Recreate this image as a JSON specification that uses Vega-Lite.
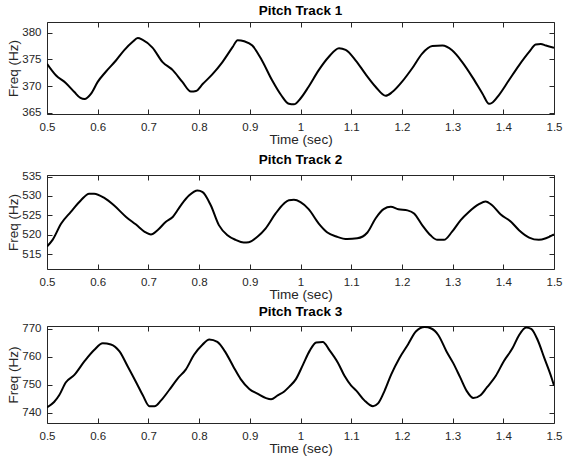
{
  "$schema": "https://vega.github.io/schema/vega-lite/v6.json",
  "background": "white",
  "padding": {"left": 6, "top": 3, "right": 0, "bottom": 0},
  "config": {
    "font": "Liberation Sans",
    "view": {"stroke": "#262626", "strokeWidth": 1},
    "axis": {
      "grid": false,
      "domain": false,
      "labelFlush": false,
      "tickColor": "#262626",
      "tickSize": -5,
      "labelColor": "#262626",
      "labelFontSize": 11.5,
      "titleColor": "#262626",
      "titleFontSize": 13.5,
      "titleFontWeight": "normal"
    },
    "axisX": {"labelPadding": 12, "titlePadding": 0},
    "axisY": {"labelPadding": 11, "titlePadding": 1},
    "title": {"fontSize": 13.5, "fontWeight": "bold", "color": "black", "offset": 4}
  },
  "data": {"values": [
    {"track": 1, "t": 0.5, "f": 374.2}, {"track": 1, "t": 0.518, "f": 372.0}, {"track": 1, "t": 0.537, "f": 370.6}, {"track": 1, "t": 0.554, "f": 368.9}, {"track": 1, "t": 0.566, "f": 367.8}, {"track": 1, "t": 0.574, "f": 367.6}, {"track": 1, "t": 0.587, "f": 368.6}, {"track": 1, "t": 0.6, "f": 370.8}, {"track": 1, "t": 0.616, "f": 372.7}, {"track": 1, "t": 0.636, "f": 374.8}, {"track": 1, "t": 0.652, "f": 376.7}, {"track": 1, "t": 0.669, "f": 378.3}, {"track": 1, "t": 0.679, "f": 379.0}, {"track": 1, "t": 0.688, "f": 378.7}, {"track": 1, "t": 0.708, "f": 377.2}, {"track": 1, "t": 0.728, "f": 374.5}, {"track": 1, "t": 0.748, "f": 373.0}, {"track": 1, "t": 0.767, "f": 370.8}, {"track": 1, "t": 0.784, "f": 369.0}, {"track": 1, "t": 0.794, "f": 369.1}, {"track": 1, "t": 0.807, "f": 370.4}, {"track": 1, "t": 0.826, "f": 372.2}, {"track": 1, "t": 0.846, "f": 374.5}, {"track": 1, "t": 0.866, "f": 377.3}, {"track": 1, "t": 0.876, "f": 378.6}, {"track": 1, "t": 0.889, "f": 378.4}, {"track": 1, "t": 0.905, "f": 377.6}, {"track": 1, "t": 0.924, "f": 374.8}, {"track": 1, "t": 0.944, "f": 371.1}, {"track": 1, "t": 0.962, "f": 368.3}, {"track": 1, "t": 0.977, "f": 366.7}, {"track": 1, "t": 0.987, "f": 366.6}, {"track": 1, "t": 1.0, "f": 367.7}, {"track": 1, "t": 1.016, "f": 369.9}, {"track": 1, "t": 1.036, "f": 373.0}, {"track": 1, "t": 1.056, "f": 375.5}, {"track": 1, "t": 1.076, "f": 377.1}, {"track": 1, "t": 1.089, "f": 376.8}, {"track": 1, "t": 1.109, "f": 374.8}, {"track": 1, "t": 1.128, "f": 372.3}, {"track": 1, "t": 1.148, "f": 369.9}, {"track": 1, "t": 1.168, "f": 368.2}, {"track": 1, "t": 1.181, "f": 368.9}, {"track": 1, "t": 1.2, "f": 370.8}, {"track": 1, "t": 1.22, "f": 373.3}, {"track": 1, "t": 1.24, "f": 376.1}, {"track": 1, "t": 1.26, "f": 377.5}, {"track": 1, "t": 1.28, "f": 377.6}, {"track": 1, "t": 1.299, "f": 376.7}, {"track": 1, "t": 1.319, "f": 374.5}, {"track": 1, "t": 1.339, "f": 371.7}, {"track": 1, "t": 1.359, "f": 368.6}, {"track": 1, "t": 1.372, "f": 366.7}, {"track": 1, "t": 1.378, "f": 366.9}, {"track": 1, "t": 1.391, "f": 368.3}, {"track": 1, "t": 1.411, "f": 371.1}, {"track": 1, "t": 1.431, "f": 373.9}, {"track": 1, "t": 1.451, "f": 376.4}, {"track": 1, "t": 1.464, "f": 377.8}, {"track": 1, "t": 1.474, "f": 377.9}, {"track": 1, "t": 1.484, "f": 377.6}, {"track": 1, "t": 1.5, "f": 377.2},
    {"track": 2, "t": 0.5, "f": 517.0}, {"track": 2, "t": 0.511, "f": 518.7}, {"track": 2, "t": 0.528, "f": 522.9}, {"track": 2, "t": 0.547, "f": 525.9}, {"track": 2, "t": 0.567, "f": 528.9}, {"track": 2, "t": 0.583, "f": 530.6}, {"track": 2, "t": 0.593, "f": 530.6}, {"track": 2, "t": 0.613, "f": 529.5}, {"track": 2, "t": 0.632, "f": 527.6}, {"track": 2, "t": 0.656, "f": 524.6}, {"track": 2, "t": 0.675, "f": 522.7}, {"track": 2, "t": 0.695, "f": 520.6}, {"track": 2, "t": 0.705, "f": 520.1}, {"track": 2, "t": 0.718, "f": 521.2}, {"track": 2, "t": 0.734, "f": 523.3}, {"track": 2, "t": 0.748, "f": 524.6}, {"track": 2, "t": 0.764, "f": 527.6}, {"track": 2, "t": 0.78, "f": 530.1}, {"track": 2, "t": 0.797, "f": 531.4}, {"track": 2, "t": 0.807, "f": 531.0}, {"track": 2, "t": 0.823, "f": 527.6}, {"track": 2, "t": 0.839, "f": 522.5}, {"track": 2, "t": 0.856, "f": 519.9}, {"track": 2, "t": 0.872, "f": 518.7}, {"track": 2, "t": 0.888, "f": 518.0}, {"track": 2, "t": 0.898, "f": 518.1}, {"track": 2, "t": 0.915, "f": 519.5}, {"track": 2, "t": 0.931, "f": 521.6}, {"track": 2, "t": 0.951, "f": 525.5}, {"track": 2, "t": 0.967, "f": 528.0}, {"track": 2, "t": 0.977, "f": 528.9}, {"track": 2, "t": 0.987, "f": 529.0}, {"track": 2, "t": 1.0, "f": 528.4}, {"track": 2, "t": 1.016, "f": 526.6}, {"track": 2, "t": 1.036, "f": 522.9}, {"track": 2, "t": 1.053, "f": 520.6}, {"track": 2, "t": 1.072, "f": 519.5}, {"track": 2, "t": 1.092, "f": 518.9}, {"track": 2, "t": 1.112, "f": 519.1}, {"track": 2, "t": 1.132, "f": 520.6}, {"track": 2, "t": 1.148, "f": 524.2}, {"track": 2, "t": 1.164, "f": 526.6}, {"track": 2, "t": 1.178, "f": 527.2}, {"track": 2, "t": 1.193, "f": 526.6}, {"track": 2, "t": 1.211, "f": 526.3}, {"track": 2, "t": 1.224, "f": 525.5}, {"track": 2, "t": 1.24, "f": 522.5}, {"track": 2, "t": 1.257, "f": 519.8}, {"track": 2, "t": 1.27, "f": 518.7}, {"track": 2, "t": 1.283, "f": 518.7}, {"track": 2, "t": 1.299, "f": 520.8}, {"track": 2, "t": 1.316, "f": 523.8}, {"track": 2, "t": 1.332, "f": 525.9}, {"track": 2, "t": 1.352, "f": 527.9}, {"track": 2, "t": 1.365, "f": 528.6}, {"track": 2, "t": 1.378, "f": 527.6}, {"track": 2, "t": 1.395, "f": 525.2}, {"track": 2, "t": 1.414, "f": 523.5}, {"track": 2, "t": 1.431, "f": 521.2}, {"track": 2, "t": 1.451, "f": 519.3}, {"track": 2, "t": 1.47, "f": 518.7}, {"track": 2, "t": 1.484, "f": 519.1}, {"track": 2, "t": 1.5, "f": 520.1},
    {"track": 3, "t": 0.5, "f": 741.9}, {"track": 3, "t": 0.514, "f": 743.8}, {"track": 3, "t": 0.524, "f": 746.2}, {"track": 3, "t": 0.537, "f": 750.8}, {"track": 3, "t": 0.554, "f": 753.5}, {"track": 3, "t": 0.574, "f": 758.4}, {"track": 3, "t": 0.593, "f": 762.4}, {"track": 3, "t": 0.61, "f": 764.8}, {"track": 3, "t": 0.626, "f": 764.4}, {"track": 3, "t": 0.643, "f": 761.9}, {"track": 3, "t": 0.659, "f": 756.6}, {"track": 3, "t": 0.676, "f": 750.8}, {"track": 3, "t": 0.689, "f": 746.2}, {"track": 3, "t": 0.702, "f": 742.3}, {"track": 3, "t": 0.712, "f": 742.3}, {"track": 3, "t": 0.725, "f": 744.4}, {"track": 3, "t": 0.741, "f": 748.1}, {"track": 3, "t": 0.758, "f": 752.3}, {"track": 3, "t": 0.774, "f": 755.5}, {"track": 3, "t": 0.79, "f": 760.7}, {"track": 3, "t": 0.807, "f": 764.4}, {"track": 3, "t": 0.82, "f": 766.2}, {"track": 3, "t": 0.836, "f": 765.3}, {"track": 3, "t": 0.853, "f": 761.3}, {"track": 3, "t": 0.869, "f": 756.0}, {"track": 3, "t": 0.882, "f": 752.0}, {"track": 3, "t": 0.899, "f": 748.5}, {"track": 3, "t": 0.916, "f": 746.7}, {"track": 3, "t": 0.932, "f": 745.2}, {"track": 3, "t": 0.942, "f": 744.8}, {"track": 3, "t": 0.955, "f": 746.2}, {"track": 3, "t": 0.968, "f": 747.6}, {"track": 3, "t": 0.978, "f": 749.3}, {"track": 3, "t": 0.991, "f": 752.0}, {"track": 3, "t": 1.005, "f": 757.2}, {"track": 3, "t": 1.018, "f": 762.1}, {"track": 3, "t": 1.031, "f": 765.1}, {"track": 3, "t": 1.044, "f": 765.3}, {"track": 3, "t": 1.057, "f": 762.4}, {"track": 3, "t": 1.074, "f": 757.8}, {"track": 3, "t": 1.087, "f": 753.1}, {"track": 3, "t": 1.1, "f": 749.7}, {"track": 3, "t": 1.11, "f": 747.9}, {"track": 3, "t": 1.126, "f": 744.4}, {"track": 3, "t": 1.143, "f": 742.3}, {"track": 3, "t": 1.153, "f": 743.3}, {"track": 3, "t": 1.166, "f": 747.9}, {"track": 3, "t": 1.179, "f": 753.7}, {"track": 3, "t": 1.195, "f": 759.5}, {"track": 3, "t": 1.212, "f": 764.4}, {"track": 3, "t": 1.228, "f": 769.1}, {"track": 3, "t": 1.245, "f": 770.6}, {"track": 3, "t": 1.258, "f": 770.1}, {"track": 3, "t": 1.272, "f": 767.7}, {"track": 3, "t": 1.288, "f": 761.9}, {"track": 3, "t": 1.301, "f": 757.8}, {"track": 3, "t": 1.315, "f": 752.6}, {"track": 3, "t": 1.328, "f": 747.7}, {"track": 3, "t": 1.341, "f": 745.2}, {"track": 3, "t": 1.355, "f": 746.2}, {"track": 3, "t": 1.368, "f": 749.1}, {"track": 3, "t": 1.385, "f": 753.1}, {"track": 3, "t": 1.401, "f": 758.4}, {"track": 3, "t": 1.418, "f": 763.0}, {"track": 3, "t": 1.431, "f": 767.7}, {"track": 3, "t": 1.445, "f": 770.5}, {"track": 3, "t": 1.455, "f": 770.0}, {"track": 3, "t": 1.468, "f": 765.9}, {"track": 3, "t": 1.481, "f": 759.5}, {"track": 3, "t": 1.495, "f": 752.6}, {"track": 3, "t": 1.5, "f": 749.7}
  ]},
  "spacing": 5,
  "vconcat": [
    {
      "width": 507, "height": 92,
      "title": "Pitch Track 1",
      "transform": [{"filter": "datum.track == 1"}],
      "layer": [
        {"mark": {"type": "line", "color": "black", "strokeWidth": 2, "clip": true, "interpolate": "monotone"},
         "encoding": {
           "x": {"field": "t", "type": "quantitative", "scale": {"domain": [0.5, 1.5], "nice": false, "zero": false},
                 "axis": {"orient": "bottom", "values": [0.5,0.6,0.7,0.8,0.9,1,1.1,1.2,1.3,1.4,1.5], "format": "~g", "title": "Time (sec)"}},
           "y": {"field": "f", "type": "quantitative", "scale": {"domain": [364.8, 382], "nice": false, "zero": false},
                 "axis": {"orient": "left", "values": [365,370,375,380], "title": "Freq (Hz)"}}}},
        {"mark": {"type": "line", "opacity": 0},
         "encoding": {
           "x": {"field": "t", "type": "quantitative", "axis": {"orient": "top", "values": [0.5,0.6,0.7,0.8,0.9,1,1.1,1.2,1.3,1.4,1.5], "labels": false, "title": null}},
           "y": {"field": "f", "type": "quantitative", "axis": {"orient": "right", "values": [365,370,375,380], "labels": false, "title": null}}}}
      ],
      "resolve": {"axis": {"x": "independent", "y": "independent"}}
    },
    {
      "spacing": 2,
      "vconcat": [
        {
          "width": 507, "height": 94,
          "title": "Pitch Track 2",
          "transform": [{"filter": "datum.track == 2"}],
          "layer": [
            {"mark": {"type": "line", "color": "black", "strokeWidth": 2, "clip": true, "interpolate": "monotone"},
             "encoding": {
               "x": {"field": "t", "type": "quantitative", "scale": {"domain": [0.5, 1.5], "nice": false, "zero": false},
                     "axis": {"orient": "bottom", "values": [0.5,0.6,0.7,0.8,0.9,1,1.1,1.2,1.3,1.4,1.5], "format": "~g", "title": "Time (sec)"}},
               "y": {"field": "f", "type": "quantitative", "scale": {"domain": [511.2, 535.4], "nice": false, "zero": false},
                     "axis": {"orient": "left", "values": [515,520,525,530,535], "title": "Freq (Hz)"}}}},
            {"mark": {"type": "line", "opacity": 0},
             "encoding": {
               "x": {"field": "t", "type": "quantitative", "axis": {"orient": "top", "values": [0.5,0.6,0.7,0.8,0.9,1,1.1,1.2,1.3,1.4,1.5], "labels": false, "title": null}},
               "y": {"field": "f", "type": "quantitative", "axis": {"orient": "right", "values": [515,520,525,530,535], "labels": false, "title": null}}}}
          ],
          "resolve": {"axis": {"x": "independent", "y": "independent"}}
        },
        {
          "width": 507, "height": 97,
          "title": "Pitch Track 3",
          "transform": [{"filter": "datum.track == 3"}],
          "layer": [
            {"mark": {"type": "line", "color": "black", "strokeWidth": 2, "clip": true, "interpolate": "monotone"},
             "encoding": {
               "x": {"field": "t", "type": "quantitative", "scale": {"domain": [0.5, 1.5], "nice": false, "zero": false},
                     "axis": {"orient": "bottom", "values": [0.5,0.6,0.7,0.8,0.9,1,1.1,1.2,1.3,1.4,1.5], "format": "~g", "title": "Time (sec)"}},
               "y": {"field": "f", "type": "quantitative", "scale": {"domain": [736.3, 771], "nice": false, "zero": false},
                     "axis": {"orient": "left", "values": [740,750,760,770], "title": "Freq (Hz)"}}}},
            {"mark": {"type": "line", "opacity": 0},
             "encoding": {
               "x": {"field": "t", "type": "quantitative", "axis": {"orient": "top", "values": [0.5,0.6,0.7,0.8,0.9,1,1.1,1.2,1.3,1.4,1.5], "labels": false, "title": null}},
               "y": {"field": "f", "type": "quantitative", "axis": {"orient": "right", "values": [740,750,760,770], "labels": false, "title": null}}}}
          ],
          "resolve": {"axis": {"x": "independent", "y": "independent"}}
        }
      ]
    }
  ]
}
